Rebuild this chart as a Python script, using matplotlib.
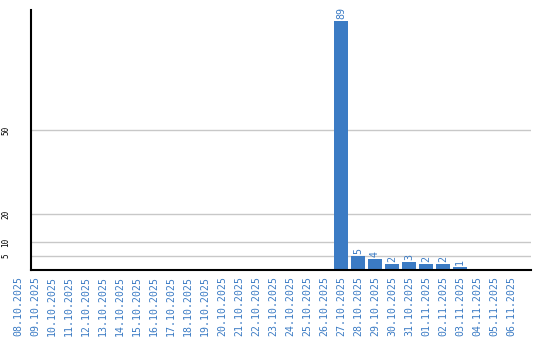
import matplotlib
matplotlib.use("Agg")
import matplotlib.pyplot as plt
import numpy as np

dates = ["08.10.2025", "09.10.2025", "10.10.2025", "11.10.2025", "12.10.2025",
         "13.10.2025", "14.10.2025", "15.10.2025", "16.10.2025", "17.10.2025",
         "18.10.2025", "19.10.2025", "20.10.2025", "21.10.2025", "22.10.2025",
         "23.10.2025", "24.10.2025", "25.10.2025", "26.10.2025", "27.10.2025",
         "28.10.2025", "29.10.2025", "30.10.2025", "31.10.2025", "01.11.2025",
         "02.11.2025", "03.11.2025", "04.11.2025", "05.11.2025", "06.11.2025"]
counts = [0, 0, 0, 0, 0, 0, 0, 0, 0, 0,
          0, 0, 0, 0, 0, 0, 0, 0, 0, 89,
          5, 4, 2, 3, 2, 2, 1, 0, 0, 0]
yticks = [5, 10, 20, 50]

blue = "#3b7bc4"
plt.rcParams['font.family'] = ['DejaVu Sans Mono']

fig = plt.figure(figsize=(5.4, 3.4), dpi=100)
ax = fig.add_axes([8/540, 70/340, (531-8)/540, 260/340])

x = np.arange(len(dates))
step = 17.0
x_left = -(18-8)/step
x_right = 29 + (531-511)/step
x_axis = (31-18)/step

ax.set_xlim(x_left, x_right)
ax.set_ylim(0, 92.9)

ax.hlines(yticks, x_axis, x_right, color="#c8c8c8", lw=1, zorder=0)
ax.bar(x, counts, width=0.82, color=blue, zorder=2)

for xi, v in zip(x, counts):
    if v > 0:
        ax.annotate(str(v), (xi, v), xytext=(0, 1.5), textcoords="offset points",
                    rotation=90, ha="center", va="bottom", color=blue, fontsize=7.2)

for s in ["top", "right"]:
    ax.spines[s].set_visible(False)
ax.spines["left"].set_position(("data", x_axis))
ax.spines["left"].set_linewidth(1.5)
ax.spines["bottom"].set_linewidth(1.5)
ax.spines["bottom"].set_bounds(x_axis, x_right)

ax.set_xticks(x)
ax.set_xticklabels(dates, rotation=90, color=blue, fontsize=7.1)
ax.set_yticks(yticks)
ax.set_yticklabels([str(t) for t in yticks], rotation=90, fontsize=5.5, va="center")
ax.tick_params(axis="x", length=0, pad=4)
ax.tick_params(axis="y", length=0, pad=15)

fig.savefig("out.png", dpi=100)
